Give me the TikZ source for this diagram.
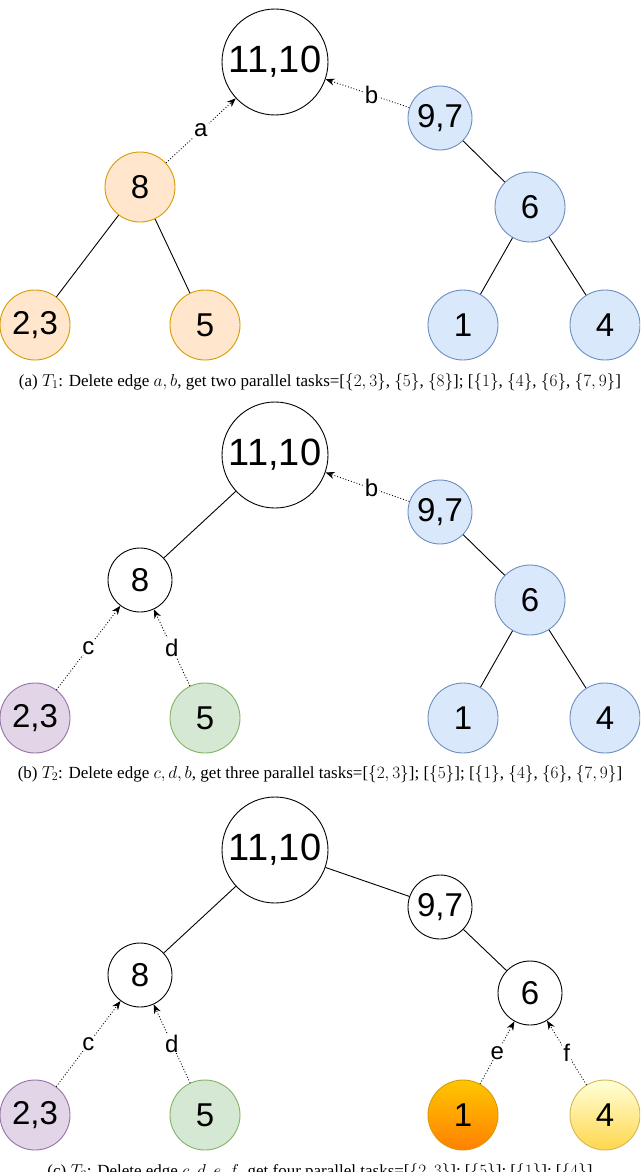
\documentclass[tikz,border=0pt]{standalone}
\usepackage{fontspec}
\setmainfont{Liberation Serif}
\newfontfamily\nodefont{Liberation Sans}
\usetikzlibrary{arrows.meta}
\definecolor{orF}{HTML}{FFE6CC}\definecolor{orD}{HTML}{D79B00}
\definecolor{blF}{HTML}{DAE8FC}\definecolor{blD}{HTML}{6C8EBF}
\definecolor{puF}{HTML}{E1D5E7}\definecolor{puD}{HTML}{9673A6}
\definecolor{grF}{HTML}{D5E8D4}\definecolor{grD}{HTML}{82B366}
\definecolor{yeD}{HTML}{D6B656}
\tikzset{
 nd/.style={circle,draw,line width=0.9pt,inner sep=0pt,font=\nodefont\fontsize{33}{33}\selectfont},
 big/.style={nd,minimum size=106pt,font=\nodefont\fontsize{38}{38}\selectfont},
 mid/.style={nd,minimum size=64pt},
 sm/.style={nd,minimum size=70pt},
 orn/.style={fill=orF,draw=orD}, bln/.style={fill=blF,draw=blD},
 pun/.style={fill=puF,draw=puD}, grn/.style={fill=grF,draw=grD},
 edge/.style={line width=0.9pt},
 cut/.style={line width=0.9pt,dotted,-{Stealth[length=9pt,width=7pt]}},
 lab/.style={fill=white,inner sep=1pt,font=\nodefont\fontsize{24}{24}\selectfont},
 captxt/.style={font=\fontsize{17}{18}\selectfont}
}
\begin{document}
\begin{tikzpicture}[x=1pt,y=-1pt]
\useasboundingbox (0,0) rectangle (640,1172);
\clip (0,0) rectangle (640,1172);
% (a)
\node[big] (a0) at (275,62) {11,10};
\node[mid,bln] (a97) at (440,118) {9,7};
\node[sm,orn] (a8) at (140,187) {8};
\node[sm,bln] (a6) at (530,207) {6};
\node[sm,orn] (a23) at (35,325) {2,3};
\node[sm,orn] (a5) at (205,325) {5};
\node[sm,bln] (a1) at (463,325) {1};
\node[sm,bln] (a4) at (605,325) {4};
\draw[edge] (a8)--(a23); \draw[edge] (a8)--(a5);
\draw[edge] (a97)--(a6); \draw[edge] (a6)--(a1); \draw[edge] (a6)--(a4);
\draw[cut] (a8)--(a0) node[lab,pos=0.5] {a};
\draw[cut] (a97)--(a0) node[lab,pos=0.45] {b};
\node[captxt] (ca) at (320,382) {(a) $T_1$: Delete edge $a,b$, get two parallel tasks=[$\{2,3\}$, $\{5\}$, $\{8\}$]; [$\{1\}$, $\{4\}$, $\{6\}$, $\{7,9\}$]};
% (b)
\node[big] (b0) at (275,455) {11,10};
\node[mid,bln] (b97) at (440,512) {9,7};
\node[mid] (b8) at (140,580) {8};
\node[sm,bln] (b6) at (530,600) {6};
\node[sm,pun] (b23) at (35,718) {2,3};
\node[sm,grn] (b5) at (205,718) {5};
\node[sm,bln] (b1) at (463,718) {1};
\node[sm,bln] (b4) at (605,718) {4};
\draw[edge] (b8)--(b0);
\draw[edge] (b97)--(b6); \draw[edge] (b6)--(b1); \draw[edge] (b6)--(b4);
\draw[cut] (b23)--(b8) node[lab,pos=0.5] {c};
\draw[cut] (b5)--(b8) node[lab,pos=0.5] {d};
\draw[cut] (b97)--(b0) node[lab,pos=0.45] {b};
\node[captxt] (cb) at (320,774) {(b) $T_2$: Delete edge $c,d,b$, get three parallel tasks=[$\{2,3\}$]; [$\{5\}$]; [$\{1\}$, $\{4\}$, $\{6\}$, $\{7,9\}$]};
% (c)
\node[big] (c0) at (275,850) {11,10};
\node[mid] (c97) at (440,907) {9,7};
\node[mid] (c8) at (140,975) {8};
\node[mid] (c6) at (530,993) {6};
\node[sm,pun] (c23) at (35,1115) {2,3};
\node[sm,grn] (c5) at (205,1115) {5};
\node[sm,draw=orD,top color=orange!45!yellow,bottom color=orange] (c1) at (463,1115) {1};
\node[sm,draw=yeD,top color=yellow!15,bottom color=yellow!55!orange!70] (c4) at (605,1115) {4};
\draw[edge] (c8)--(c0); \draw[edge] (c97)--(c0); \draw[edge] (c97)--(c6);
\draw[cut] (c23)--(c8) node[lab,pos=0.5] {c};
\draw[cut] (c5)--(c8) node[lab,pos=0.5] {d};
\draw[cut] (c1)--(c6) node[lab,pos=0.5] {e};
\draw[cut] (c4)--(c6) node[lab,pos=0.5] {f};
\node[captxt] (cc) at (320,1172) {(c) $T_3$: Delete edge $c,d,e,f$, get four parallel tasks=[$\{2,3\}$]; [$\{5\}$]; [$\{1\}$]; [$\{4\}$]};
\end{tikzpicture}
\end{document}
